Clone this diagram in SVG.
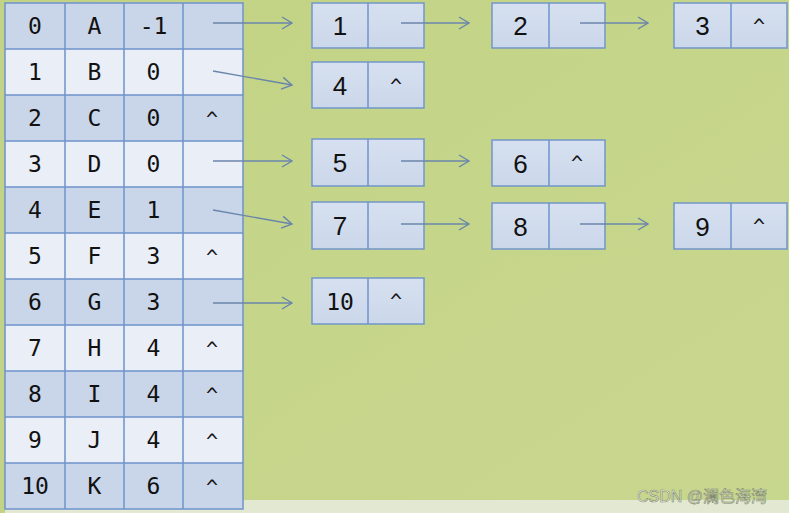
<svg xmlns="http://www.w3.org/2000/svg" width="789" height="513" viewBox="0 0 789 513">
<defs>
<linearGradient id="bg" x1="0" y1="0" x2="1" y2="1">
<stop offset="0" stop-color="#c2d385"/>
<stop offset="1" stop-color="#c8d78e"/>
</linearGradient>
<linearGradient id="cell" x1="0" y1="0" x2="0" y2="1">
<stop offset="0" stop-color="#d6e0f0"/>
<stop offset="1" stop-color="#cbd7ea"/>
</linearGradient>
<marker id="ah" viewBox="0 0 12 14" refX="11" refY="7" markerWidth="12" markerHeight="14" markerUnits="userSpaceOnUse" orient="auto">
<path d="M1,1 L11,7 L1,13" fill="none" stroke="#6a86ab" stroke-width="1.4"/>
</marker>
</defs>
<style>
.dk{fill:#c9d5e8}
.lt{fill:#e9eef7}
.grid{stroke:#6f93cc;stroke-width:1.5;fill:none}
.t{font-family:"DejaVu Sans Mono",monospace;font-size:23px;fill:#111;text-anchor:middle}
.cr{font-size:20px}
.n{font-family:"Liberation Sans",Arial,sans-serif;font-size:26px;fill:#111;text-anchor:middle}
.ca{font-family:"DejaVu Sans Mono",monospace;font-size:20px;fill:#111;text-anchor:middle}
.nm{font-family:"DejaVu Sans Mono",monospace;font-size:23px;fill:#111;text-anchor:middle}
.box{fill:url(#cell);stroke:#7396c8;stroke-width:1.5}
.c{stroke:#6a86ab;stroke-width:1.4;fill:none;marker-end:url(#ah)}
</style>
<rect x="0" y="0" width="789" height="513" fill="url(#bg)"/>
<rect x="0" y="500" width="789" height="13" fill="#e3e8d2"/>
<rect x="0" y="0" width="5" height="513" fill="#c2d385"/>

<g id="table">
<rect class="dk" x="5" y="3" width="238" height="46"/>
<rect class="lt" x="5" y="49" width="238" height="46"/>
<rect class="dk" x="5" y="95" width="238" height="46"/>
<rect class="lt" x="5" y="141" width="238" height="46"/>
<rect class="dk" x="5" y="187" width="238" height="46"/>
<rect class="lt" x="5" y="233" width="238" height="46"/>
<rect class="dk" x="5" y="279" width="238" height="46"/>
<rect class="lt" x="5" y="325" width="238" height="46"/>
<rect class="dk" x="5" y="371" width="238" height="46"/>
<rect class="lt" x="5" y="417" width="238" height="46"/>
<rect class="dk" x="5" y="463" width="238" height="46"/>
<path class="grid" d="M5,3 H243 V509 H5 Z M65,3 V509 M124,3 V509 M183,3 V509 M5,49 H243 M5,95 H243 M5,141 H243 M5,187 H243 M5,233 H243 M5,279 H243 M5,325 H243 M5,371 H243 M5,417 H243 M5,463 H243"/>
<g class="t">
<text x="35" y="34">0</text><text x="94.5" y="34">A</text><text x="153.5" y="34">-1</text>
<text x="35" y="80">1</text><text x="94.5" y="80">B</text><text x="153.5" y="80">0</text>
<text x="35" y="126">2</text><text x="94.5" y="126">C</text><text x="153.5" y="126">0</text><text class="cr" x="212" y="126">^</text>
<text x="35" y="172">3</text><text x="94.5" y="172">D</text><text x="153.5" y="172">0</text>
<text x="35" y="218">4</text><text x="94.5" y="218">E</text><text x="153.5" y="218">1</text>
<text x="35" y="264">5</text><text x="94.5" y="264">F</text><text x="153.5" y="264">3</text><text class="cr" x="212" y="264">^</text>
<text x="35" y="310">6</text><text x="94.5" y="310">G</text><text x="153.5" y="310">3</text>
<text x="35" y="356">7</text><text x="94.5" y="356">H</text><text x="153.5" y="356">4</text><text class="cr" x="212" y="356">^</text>
<text x="35" y="402">8</text><text x="94.5" y="402">I</text><text x="153.5" y="402">4</text><text class="cr" x="212" y="402">^</text>
<text x="35" y="448">9</text><text x="94.5" y="448">J</text><text x="153.5" y="448">4</text><text class="cr" x="212" y="448">^</text>
<text x="35" y="494">10</text><text x="94.5" y="494">K</text><text x="153.5" y="494">6</text><text class="cr" x="212" y="494">^</text>
</g>
</g>

<g id="node1"><rect class="box" x="312" y="3" width="112" height="45"/><line class="grid" x1="368" y1="3" x2="368" y2="48"/><text class="n" x="340" y="35">1</text></g>
<g id="node2"><rect class="box" x="492" y="3" width="113" height="45"/><line class="grid" x1="549" y1="3" x2="549" y2="48"/><text class="n" x="520.5" y="35">2</text></g>
<g id="node3"><rect class="box" x="674" y="3" width="113" height="45"/><line class="grid" x1="731" y1="3" x2="731" y2="48"/><text class="n" x="702.5" y="35">3</text><text class="ca" x="759" y="33">^</text></g>
<g id="node4"><rect class="box" x="312" y="62" width="112" height="46"/><line class="grid" x1="368" y1="62" x2="368" y2="108"/><text class="n" x="340" y="95">4</text><text class="ca" x="396" y="93">^</text></g>
<g id="node5"><rect class="box" x="312" y="139" width="112" height="47"/><line class="grid" x1="368" y1="139" x2="368" y2="186"/><text class="n" x="340" y="172">5</text></g>
<g id="node6"><rect class="box" x="492" y="140" width="113" height="46"/><line class="grid" x1="549" y1="140" x2="549" y2="186"/><text class="n" x="520.5" y="173">6</text><text class="ca" x="577" y="170">^</text></g>
<g id="node7"><rect class="box" x="312" y="202" width="112" height="47"/><line class="grid" x1="368" y1="202" x2="368" y2="249"/><text class="n" x="340" y="235">7</text></g>
<g id="node8"><rect class="box" x="492" y="203" width="113" height="46"/><line class="grid" x1="549" y1="203" x2="549" y2="249"/><text class="n" x="520.5" y="236">8</text></g>
<g id="node9"><rect class="box" x="674" y="203" width="113" height="46"/><line class="grid" x1="731" y1="203" x2="731" y2="249"/><text class="n" x="702.5" y="236">9</text><text class="ca" x="759" y="233">^</text></g>
<g id="node10"><rect class="box" x="312" y="278" width="112" height="46"/><line class="grid" x1="368" y1="278" x2="368" y2="324"/><text class="nm" x="340" y="310">10</text><text class="ca" x="396" y="308">^</text></g>

<g id="connectors">
<line class="c" x1="213" y1="23" x2="292" y2="23"/>
<line class="c" x1="213" y1="71" x2="292" y2="85"/>
<line class="c" x1="213" y1="161" x2="292" y2="161"/>
<line class="c" x1="213" y1="210" x2="292" y2="224"/>
<line class="c" x1="213" y1="303" x2="292" y2="303"/>
<line class="c" x1="401" y1="23" x2="469" y2="23"/>
<line class="c" x1="580" y1="23" x2="648" y2="23"/>
<line class="c" x1="401" y1="161" x2="469" y2="161"/>
<line class="c" x1="401" y1="224" x2="469" y2="224"/>
<line class="c" x1="580" y1="224" x2="648" y2="224"/>
</g>

<text x="637" y="502" font-family="Liberation Sans,Noto Sans CJK SC,sans-serif" font-size="16" fill="#eef1e4" stroke="#7f8a6c" stroke-width="0.6">CSDN @澜色海湾</text>
</svg>
